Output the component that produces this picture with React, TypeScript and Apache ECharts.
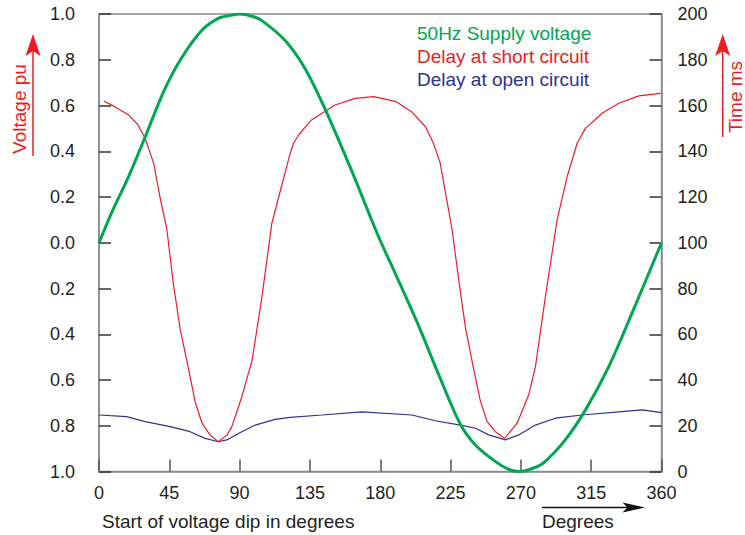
import React, { useEffect, useRef } from "react";
import * as echarts from "echarts";

const FONT = '"Liberation Sans", Arial, Helvetica, sans-serif';

// X axis ticks (degrees)
const xTicks = [0, 45, 90, 135, 180, 225, 270, 315, 360];

// 50Hz supply voltage (pu, left axis; negative half shown as absolute labels)
const supplyDeg = [0, 8, 19, 30, 42, 53, 66, 76, 83, 90, 98, 104, 119, 132, 145, 162, 179, 190, 205, 217, 231, 241, 254, 262, 269, 276, 284, 298, 311, 326, 341, 360];
const supplyVolt = [0, 0.13, 0.29, 0.47, 0.67, 0.81, 0.93, 0.98, 0.993, 1.0, 0.99, 0.972, 0.885, 0.76, 0.58, 0.31, 0.025, -0.14, -0.37, -0.57, -0.79, -0.885, -0.958, -0.99, -1.0, -0.99, -0.965, -0.865, -0.735, -0.545, -0.31, 0];

// Delay at short circuit (ms, right axis)
const shortDeg = [3, 10, 19, 25, 29.5, 35, 39, 43.4, 47.6, 52, 57, 61.5, 66, 71, 76.4, 82, 85, 91.4, 98, 104, 110.6, 115, 119, 122.3, 124.5, 127.7, 136, 151, 164, 176, 190, 200, 209, 214, 218.4, 226, 230, 234.5, 240, 244, 248.4, 253.7, 259.6, 267.6, 275, 279.3, 285.7, 293.2, 299.6, 306, 311.3, 322, 332.7, 345.5, 359.4];
const shortDelay = [162, 159.5, 155.8, 151.5, 145.7, 134.7, 120, 106, 82, 62, 46, 30.5, 21, 16, 13, 16, 19.6, 32.7, 48.7, 75, 108.5, 120, 130.4, 139, 143.5, 147.1, 153.7, 160.2, 163.1, 163.9, 161.7, 157.3, 150.7, 143.5, 134.7, 105.6, 85, 63, 44, 31, 21.8, 17.4, 14.5, 21.1, 33.4, 45.8, 76.4, 110, 128.9, 143.5, 150, 156.6, 161, 164.2, 165.3];

// Delay at open circuit (ms, right axis)
const openDeg = [0, 17.7, 29.5, 45.5, 58.3, 67.9, 76.4, 81.8, 91.4, 100, 112.7, 122.3, 142.6, 168.3, 200.3, 215.2, 231.3, 241, 249.4, 260.1, 268.6, 279.3, 292, 309, 332.7, 347.6, 360];
const openDelay = [24.7, 24, 21.8, 19.6, 17.4, 14.5, 13, 13.8, 17.4, 20.3, 22.8, 23.7, 24.7, 26.1, 24.7, 22.2, 20.3, 18.9, 16, 13.8, 16, 20.3, 23.3, 24.7, 26.1, 26.9, 25.7];

const GREEN = "#00a651";
const RED = "#ed1c24";
const BLUE = "#2e3192";
const TEXT = "#231f20";
const AXIS = "#8a8a8a";

const zip = (xs: number[], ys: number[]) => xs.map((x, i) => [x, ys[i]]);

export default function App() {
  const ref = useRef<HTMLDivElement>(null);
  useEffect(() => {
    document.body.style.margin = "0";
    const chart = echarts.init(ref.current!, null, { renderer: "svg" });
    const txt = (text: string, x: number, y: number, fill: string, extra: any = {}) => ({
      type: "text",
      x,
      y,
      ...extra,
      style: {
        text,
        fill,
        fontSize: 19,
        fontFamily: FONT,
        align: extra.align || "left",
        verticalAlign: "middle",
      },
    });
    chart.setOption({
      animation: false,
      textStyle: { fontFamily: FONT },
      grid: {
        left: 99,
        right: 83.5,
        top: 14,
        bottom: 63.5,
        show: true,
        borderColor: AXIS,
        borderWidth: 1.5,
        backgroundColor: "transparent",
      },
      xAxis: {
        type: "value",
        min: xTicks[0],
        max: xTicks[xTicks.length - 1],
        interval: 45,
        axisLine: { show: true, onZero: false, lineStyle: { color: AXIS, width: 1.5 } },
        axisTick: { show: true, inside: true, length: 12, lineStyle: { color: "#555", width: 1.5 } },
        axisLabel: { margin: 12, fontSize: 18, color: TEXT, fontFamily: FONT },
        splitLine: { show: false },
      },
      yAxis: [
        {
          type: "value",
          position: "left",
          min: -1,
          max: 1,
          interval: 0.2,
          axisLine: { show: true, onZero: false, lineStyle: { color: AXIS, width: 1.5 } },
          axisTick: { show: true, inside: true, length: 12, lineStyle: { color: "#333", width: 1.5 } },
          axisLabel: {
            margin: 24,
            fontSize: 18,
            color: TEXT,
            fontFamily: FONT,
            formatter: (v: number) => Math.abs(v).toFixed(1),
          },
          splitLine: { show: false },
        },
        {
          type: "value",
          position: "right",
          min: 0,
          max: 200,
          interval: 20,
          axisLine: { show: true, onZero: false, lineStyle: { color: AXIS, width: 1.5 } },
          axisTick: { show: true, inside: true, length: 12, lineStyle: { color: "#333", width: 1.5 } },
          axisLabel: { margin: 16, fontSize: 18, color: TEXT, fontFamily: FONT },
          splitLine: { show: false },
        },
      ],
      series: [
        {
          name: "Delay at open circuit",
          type: "line",
          yAxisIndex: 1,
          data: zip(openDeg, openDelay),
          symbol: "none",
          lineStyle: { color: BLUE, width: 1.2 },
        },
        {
          name: "Delay at short circuit",
          type: "line",
          yAxisIndex: 1,
          data: zip(shortDeg, shortDelay),
          symbol: "none",
          lineStyle: { color: RED, width: 1.2 },
        },
        {
          name: "50Hz Supply voltage",
          type: "line",
          yAxisIndex: 0,
          data: zip(supplyDeg, supplyVolt),
          symbol: "none",
          smooth: 0.3,
          lineStyle: { color: GREEN, width: 3 },
        },
      ],
      graphic: [
        txt("50Hz Supply voltage", 417, 33, GREEN),
        txt("Delay at short circuit", 417, 56.5, RED),
        txt("Delay at open circuit", 417, 79.5, BLUE),
        txt("Start of voltage dip in degrees", 102, 521, TEXT),
        txt("Degrees", 542, 521, TEXT),
        txt("Voltage pu", 19, 109, RED, { rotation: Math.PI / 2, align: "center" }),
        txt("Time ms", 735.5, 97, RED, { rotation: Math.PI / 2, align: "center" }),
        // left arrow
        { type: "line", shape: { x1: 33, y1: 156, x2: 33, y2: 48 }, style: { stroke: RED, lineWidth: 1.5 } },
        { type: "polygon", shape: { points: [[33, 34], [40.5, 56], [33, 51], [25.5, 56]] }, style: { fill: RED } },
        // right arrow
        { type: "line", shape: { x1: 722.7, y1: 137, x2: 722.7, y2: 48 }, style: { stroke: RED, lineWidth: 1.5 } },
        { type: "polygon", shape: { points: [[722.7, 34], [730.2, 56], [722.7, 51], [715.2, 56]] }, style: { fill: RED } },
        // bottom arrow
        { type: "line", shape: { x1: 542, y1: 507.5, x2: 630, y2: 507.5 }, style: { stroke: "#111", lineWidth: 1.5 } },
        { type: "polygon", shape: { points: [[645, 507.5], [622.5, 502.6], [627.5, 507.5], [622.5, 512.4]] }, style: { fill: "#111" } },
      ],
    });
    return () => chart.dispose();
  }, []);
  return <div ref={ref} style={{ width: 745, height: 535 }} />;
}
